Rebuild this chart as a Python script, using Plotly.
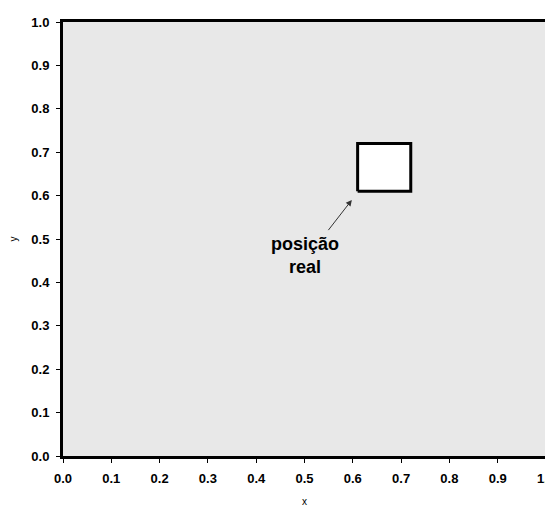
import plotly.graph_objects as go

# data
square_x = [0.61, 0.72]   # real position box, x bounds
square_y = [0.61, 0.72]   # y bounds
arrow_head = [0.598, 0.590]
arrow_tail = [0.547, 0.517]
label_pos = [0.501, 0.462]
label_text = "posição<br>real"
tick_vals = [round(i * 0.1, 1) for i in range(11)]
tick_text = [f"{v:.1f}" for v in tick_vals]

FONT = "Liberation Sans, Arial"

fig = go.Figure()
fig.add_trace(go.Scatter(
    x=[square_x[0], square_x[1], square_x[1], square_x[0], square_x[0]],
    y=[square_y[0], square_y[0], square_y[1], square_y[1], square_y[0]],
    mode="lines", fill="toself", fillcolor="white",
    line=dict(color="black", width=3), hoverinfo="skip", showlegend=False))

fig.add_annotation(x=arrow_head[0], y=arrow_head[1], ax=arrow_tail[0], ay=arrow_tail[1],
                   xref="x", yref="y", axref="x", ayref="y", text="",
                   showarrow=True, arrowhead=2, arrowsize=1.2, arrowwidth=1, arrowcolor="#333")
fig.add_annotation(x=label_pos[0], y=label_pos[1], xref="x", yref="y", text=label_text,
                   showarrow=False, font=dict(family=FONT, size=18, color="black", weight="bold"),
                   align="center")

axis_common = dict(range=[0, 1], tickmode="array", tickvals=tick_vals, ticktext=tick_text,
                   showgrid=False, zeroline=False, showline=True, linecolor="black",
                   linewidth=3, mirror=True, ticks="outside", ticklen=4, tickwidth=1,
                   tickcolor="black", automargin=False, ticklabeloverflow="allow",
                   tickfont=dict(family=FONT, size=13, color="black", weight="bold"))

fig.update_xaxes(**axis_common, ticklabelstandoff=4,
                 title=dict(text="x", font=dict(family=FONT, size=10, color="black"), standoff=14))
fig.update_yaxes(**axis_common, ticklabelstandoff=4,
                 title=dict(text="y", font=dict(family=FONT, size=10, color="black"), standoff=16))

# page body has an 8px margin, so the figure is shrunk by that offset
fig.update_layout(width=545, height=501, margin=dict(l=55, r=7, t=14, b=53),
                  plot_bgcolor="#e8e8e8", paper_bgcolor="white",
                  font=dict(family=FONT))
fig.write_html("out.html")
